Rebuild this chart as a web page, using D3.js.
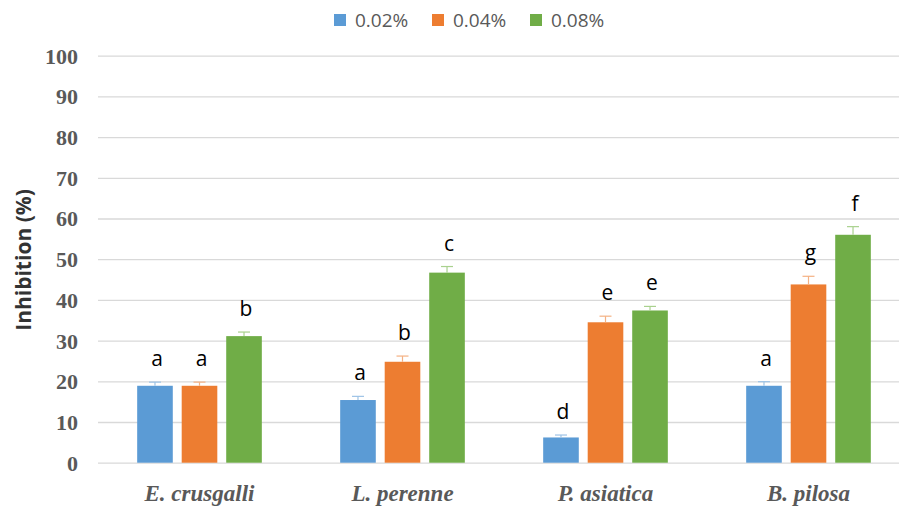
<!DOCTYPE html>
<html>
<head>
<meta charset="utf-8">
<script src="https://cdn.jsdelivr.net/npm/d3@7"></script>
<style>
  html, body { margin: 0; padding: 0; background: #fff; }
  svg { display: block; }
</style>
</head>
<body>
<svg id="chart" width="899" height="511"></svg>
<script>
"use strict"

// data
var categories = ["E. crusgalli", "L. perenne", "P. asiatica", "B. pilosa"];
var series     = ["0.02%", "0.04%", "0.08%"];
var colors     = ["#5B9BD5", "#ED7D31", "#70AD47"];
var errColors  = ["#9DC3E6", "#F4B183", "#A9D18E"];
var values = [
	[18.9, 18.9, 31.1],
	[15.4, 24.8, 46.7],
	[ 6.2, 34.5, 37.4],
	[18.9, 43.8, 56.0]
];
var errors = [
	[0.9, 0.9, 1.0],
	[0.9, 1.4, 1.5],
	[0.6, 1.5, 1.0],
	[1.0, 2.0, 2.0]
];
var letters = [
	["a", "a", "b"],
	["a", "b", "c"],
	["d", "e", "e"],
	["a", "g", "f"]
];
var yTicks = [0, 10, 20, 30, 40, 50, 60, 70, 80, 90, 100];

var svg = d3.select("#chart");

var x0 = d3.scaleBand().domain(categories).range([98, 910]).padding(0);
var x1 = d3.scaleBand().domain(series).range([0, x0.bandwidth()])
	.paddingInner(0.2).paddingOuter(0.88);
var y = d3.scaleLinear().domain([0, 100]).range([462.7, 55.7]);

//
// gridlines
//
var yAxis = d3.axisLeft(y).tickValues(yTicks).tickSize(-(910 - 98)).tickPadding(20);
var gAxis = svg.append("g").attr("transform", "translate(98,0)").call(yAxis);
gAxis.select(".domain").remove();
gAxis.selectAll(".tick line")
	.attr("stroke", "#d9d9d9")
	.attr("stroke-width", 1.3);
gAxis.selectAll(".tick text")
	.attr("fill", "#595959")
	.attr("font-family", "'Liberation Serif', 'Times New Roman', serif")
	.attr("font-weight", "bold")
	.attr("font-size", 22)
	.attr("dy", "0.34em");

//
// bars
//
var groups = svg.selectAll("g.cat")
	.data(categories)
	.enter().append("g")
	.attr("class", "cat")
	.attr("transform", function(d) { return "translate(" + x0(d) + ",0)"; });

groups.each(function(cat, ci) {
	var g = d3.select(this);
	series.forEach(function(s, si) {
		var v = values[ci][si];
		var e = errors[ci][si];
		var bx = x1(s);
		var bw = x1.bandwidth();
		var cx = bx + bw / 2;
		g.append("rect")
			.attr("x", bx)
			.attr("y", y(v))
			.attr("width", bw)
			.attr("height", y(0) - y(v))
			.attr("fill", colors[si]);
		// upper error whisker
		g.append("line")
			.attr("x1", cx).attr("x2", cx)
			.attr("y1", y(v)).attr("y2", y(v + e))
			.attr("stroke", errColors[si]).attr("stroke-width", 1.2);
		g.append("line")
			.attr("x1", cx - 6).attr("x2", cx + 6)
			.attr("y1", y(v + e)).attr("y2", y(v + e))
			.attr("stroke", errColors[si]).attr("stroke-width", 1.2);
		// significance letter
		g.append("text")
			.attr("x", cx + 2)
			.attr("y", y(v + e) - 16)
			.attr("text-anchor", "middle")
			.attr("font-family", "'Open Sans', sans-serif")
			.attr("font-size", 21)
			.attr("fill", "#000")
			.text(letters[ci][si]);
	});
});

//
// category labels
//
svg.selectAll("text.cat")
	.data(categories)
	.enter().append("text")
	.attr("class", "cat")
	.attr("x", function(d) { return x0(d) + x0.bandwidth() / 2; })
	.attr("y", 501)
	.attr("text-anchor", "middle")
	.attr("font-family", "'Liberation Serif', 'Times New Roman', serif")
	.attr("font-weight", "bold")
	.attr("font-style", "italic")
	.attr("font-size", 23)
	.attr("fill", "#595959")
	.text(function(d) { return d; });

//
// y title
//
svg.append("text")
	.attr("transform", "translate(31,260) rotate(-90)")
	.attr("text-anchor", "middle")
	.attr("font-family", "'Open Sans', sans-serif")
	.attr("font-weight", "bold")
	.attr("font-size", 21)
	.attr("fill", "#333")
	.text("Inhibition (%)");

//
// legend
//
var legend = svg.selectAll("g.leg")
	.data(series)
	.enter().append("g")
	.attr("class", "leg")
	.attr("transform", function(d, i) { return "translate(" + (334 + i * 98) + ",14)"; });
legend.append("rect")
	.attr("width", 12).attr("height", 12)
	.attr("fill", function(d, i) { return colors[i]; });
legend.append("text")
	.attr("x", 21)
	.attr("y", 13)
	.attr("font-family", "'Open Sans', sans-serif")
	.attr("font-size", 19)
	.attr("fill", "#595959")
	.text(function(d) { return d; });
</script>
</body>
</html>
